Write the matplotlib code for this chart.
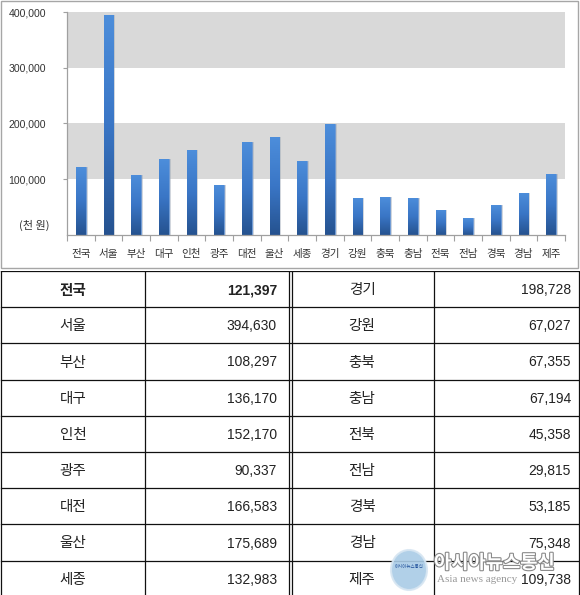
import numpy as np
import matplotlib
matplotlib.use("Agg")
import matplotlib.pyplot as plt
from matplotlib.patches import Rectangle, Ellipse
from matplotlib.colors import LinearSegmentedColormap
import matplotlib.patheffects as pe
from matplotlib.ticker import FuncFormatter

# ---------------- data ----------------
regions = ["전국", "서울", "부산", "대구", "인천", "광주", "대전", "울산", "세종",
           "경기", "강원", "충북", "충남", "전북", "전남", "경북", "경남", "제주"]
values = [121397, 394630, 108297, 136170, 152170, 90337, 166583, 175689, 132983,
          198728, 67027, 67355, 67194, 45358, 29815, 53185, 75348, 109738]
y_ticks = [100000, 200000, 300000, 400000]
unit_label = "(천 원)"

KR = ["Noto Sans CJK KR", "DejaVu Sans"]
NUM = ["Liberation Sans", "DejaVu Sans"]

W, H = 580, 595
fig = plt.figure(figsize=(W / 100, H / 100), dpi=100)
fig.patch.set_facecolor("white")

def fx(px):
    return px / W

def fy(py):
    return 1 - py / H

# ---------------- chart frame ----------------
fig.patches.append(Rectangle((fx(1), fy(268)), fx(577), (268 - 1) / H,
                             transform=fig.transFigure, fill=False,
                             edgecolor="#a6a6a6", linewidth=1.0, zorder=0))

# ---------------- bar chart ----------------
ax = fig.add_axes([fx(67), fy(235), fx(565 - 67), (235 - 12) / H])
ax.set_facecolor("white")
ax.axhspan(100000, 200000, color="#d9d9d9", zorder=0, lw=0)
ax.axhspan(300000, 400000, color="#d9d9d9", zorder=0, lw=0)

x = np.arange(len(regions))
# soft shadows
ax.bar(x + 0.07, values, width=0.36, color="#9aa6b5", alpha=0.45, zorder=1, lw=0)
bars = ax.bar(x, values, width=0.36, color="#3a74c2", edgecolor="#6f9bd6",
              linewidth=0.6, zorder=2)
cmap = LinearSegmentedColormap.from_list("b", ["#4d8edb", "#3a76c6", "#25528f"])
grad = np.linspace(0, 1, 256).reshape(-1, 1)
for b in bars:
    x0, y0 = b.get_x(), b.get_y()
    w, h = b.get_width(), b.get_height()
    im = ax.imshow(grad, extent=[x0, x0 + w, y0, y0 + h], aspect="auto",
                   origin="upper", cmap=cmap, zorder=2.5,
                   interpolation="bilinear")
    im.set_clip_path(b)

ax.set_xlim(-0.5, len(regions) - 0.5)
ax.set_ylim(0, 400000)
ax.set_yticks(y_ticks)
ax.yaxis.set_major_formatter(FuncFormatter(lambda v, p: f"{int(v):,}"))
ax.tick_params(axis="y", length=3, width=0.8, color="#a0a0a0", pad=12,
               labelsize=7.6, labelcolor="#333333")
for t in ax.get_yticklabels():
    t.set_family(NUM)
ax.set_xticks(x)
ax.set_xticklabels(regions, family=KR, fontsize=7.6, color="#333333")
ax.set_xticks(np.arange(len(regions) + 1) - 0.5, minor=True)
ax.tick_params(axis="x", which="major", length=0, pad=10)
ax.tick_params(axis="x", which="minor", length=4, width=0.8, color="#a0a0a0")
for s in ["top", "right"]:
    ax.spines[s].set_visible(False)
for s in ["left", "bottom"]:
    ax.spines[s].set_color("#a0a0a0")
    ax.spines[s].set_linewidth(0.9)

fig.text(fx(34), fy(225), unit_label, family=KR, fontsize=8, color="#333333",
         ha="center", va="center")

# ---------------- table ----------------
left_names, right_names = regions[:9], regions[9:]
left_vals, right_vals = values[:9], values[9:]

top_px = 271
row_h = 36.2
tab = fig.add_axes([0, 0, 1, (H - top_px) / H])
tab.set_xlim(0, W)
tab.set_ylim(H - top_px, 0)
tab.axis("off")

n_rows = len(left_names)
line_kw = dict(color="#111111", linewidth=0.9)
for i in range(n_rows + 1):
    tab.plot([1, 579], [i * row_h, i * row_h], **line_kw)
for cx in [1.2, 145, 289, 291.5, 434, 578.8]:
    tab.plot([cx, cx], [0, n_rows * row_h], **line_kw)

for i in range(n_rows):
    yc = i * row_h + row_h / 2 + 1
    bold = "bold" if i == 0 else "normal"
    tab.text(73, yc, left_names[i], family=KR, fontsize=10.5, ha="center",
             va="center", color="#222222", fontweight=bold)
    tab.text(277, yc, f"{left_vals[i]:,}", family=NUM, fontsize=10, ha="right",
             va="center", color="#222222", fontweight=bold)
    tab.text(362, yc, right_names[i], family=KR, fontsize=10.5, ha="center",
             va="center", color="#222222")
    tab.text(571, yc, f"{right_vals[i]:,}", family=NUM, fontsize=10, ha="right",
             va="center", color="#222222")

# ---------------- watermark ----------------
tab.add_patch(Ellipse((409, 570 - top_px), 36, 40, facecolor="#a9cbe6",
                      edgecolor="#d7e6f2", lw=1.5, alpha=0.9, zorder=5))
tab.text(409, 566 - top_px, "아시아뉴스통신", family=KR, fontsize=3.2,
         color="#1f4f9a", ha="center", va="center", zorder=6)
tab.text(434, 563 - top_px, "아시아뉴스통신", family=KR, fontsize=13.5,
         fontweight="bold", color="white", ha="left", va="center", zorder=6,
         path_effects=[pe.withStroke(linewidth=1.6, foreground="#8a8a8a")])
tab.text(437, 579 - top_px, "Asia news agency", family=["Liberation Serif", "DejaVu Serif"],
         fontsize=8, color="#9a9a9a", ha="left", va="center", zorder=6)

fig.savefig("out.png", dpi=100, facecolor="white")
